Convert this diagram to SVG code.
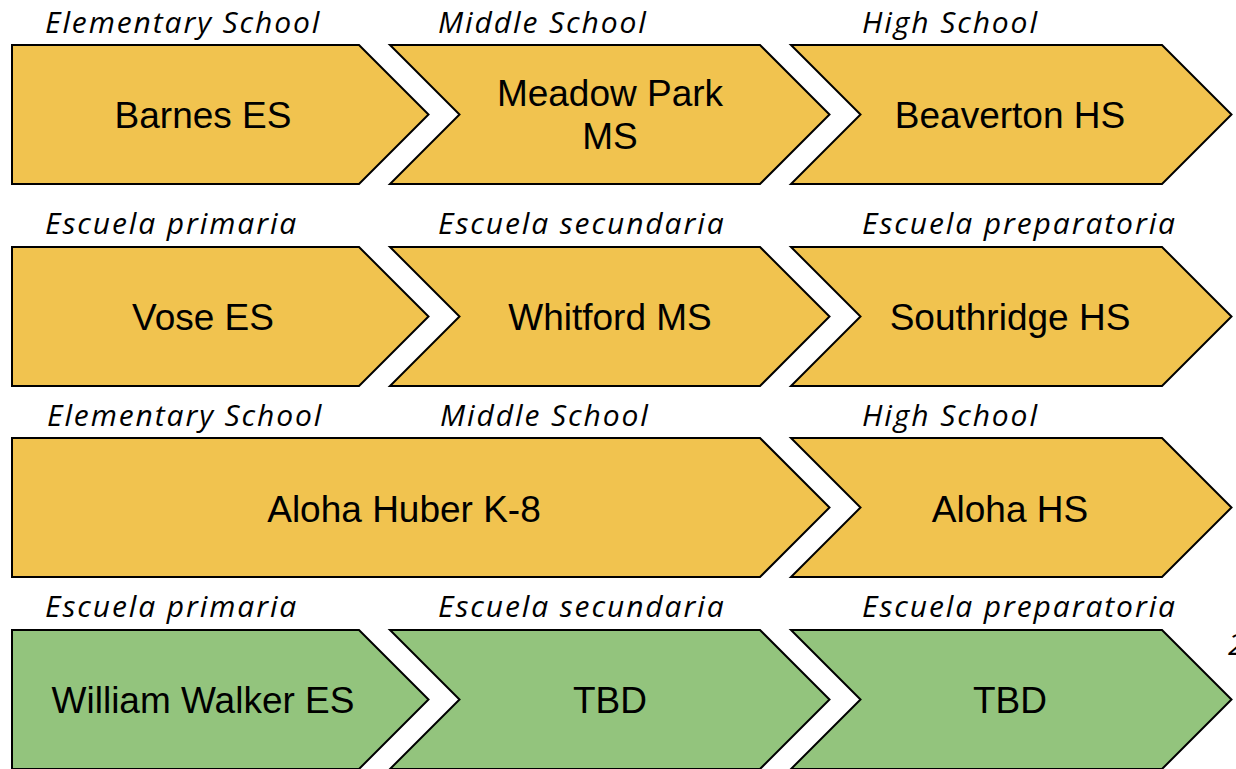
<svg xmlns="http://www.w3.org/2000/svg" width="1236" height="769" viewBox="0 0 1236 769">
<style>
.y{fill:#F1C34F;stroke:#000;stroke-width:2;stroke-linejoin:miter}
.g{fill:#93C47D;stroke:#000;stroke-width:2;stroke-linejoin:miter}
.lbl{font-family:"Open Sans",Lato,sans-serif;font-style:italic;font-size:30px;letter-spacing:1.9px;fill:#000}
.t{font-family:"Liberation Sans",Arial,sans-serif;font-size:37px;fill:#000;text-anchor:middle}
</style>
<rect width="1236" height="769" fill="#fff"/>
<g id="labels">
<text class="lbl" x="45" y="32.5">Elementary School</text>
<text class="lbl" x="438" y="32.5">Middle School</text>
<text class="lbl" x="862" y="32.5">High School</text>
<text class="lbl" x="45" y="233.5">Escuela primaria</text>
<text class="lbl" x="438" y="233.5">Escuela secundaria</text>
<text class="lbl" x="862" y="233.5">Escuela preparatoria</text>
<text class="lbl" x="47" y="425.5">Elementary School</text>
<text class="lbl" x="440" y="425.5">Middle School</text>
<text class="lbl" x="862" y="425.5">High School</text>
<text class="lbl" x="45" y="616.5">Escuela primaria</text>
<text class="lbl" x="438" y="616.5">Escuela secundaria</text>
<text class="lbl" x="862" y="616.5">Escuela preparatoria</text>
<text class="lbl" x="1228" y="655">2</text>
</g>
<g id="barnes"><path class="y" d="M12,45 H359 L428.5,114.5 L359,184 H12 Z"/><text class="t" x="203" y="128">Barnes ES</text></g>
<g id="meadowpark"><path class="y" d="M390,45 H760 L829.5,114.5 L760,184 H390 L459.5,114.5 Z"/><text class="t" x="610" y="106">Meadow Park</text><text class="t" x="610" y="149">MS</text></g>
<g id="beaverton"><path class="y" d="M791,45 H1162 L1231.5,114.5 L1162,184 H791 L860.5,114.5 Z"/><text class="t" x="1010" y="128">Beaverton HS</text></g>
<g id="vose"><path class="y" d="M12,247 H359 L428.5,316.5 L359,386 H12 Z"/><text class="t" x="203" y="330">Vose ES</text></g>
<g id="whitford"><path class="y" d="M390,247 H760 L829.5,316.5 L760,386 H390 L459.5,316.5 Z"/><text class="t" x="610" y="330">Whitford MS</text></g>
<g id="southridge"><path class="y" d="M791,247 H1162 L1231.5,316.5 L1162,386 H791 L860.5,316.5 Z"/><text class="t" x="1010" y="330">Southridge HS</text></g>
<g id="alohahuber"><path class="y" d="M12,438 H760 L829.5,507.5 L760,577 H12 Z"/><text class="t" x="404" y="522">Aloha Huber K-8</text></g>
<g id="alohahs"><path class="y" d="M791,438 H1162 L1231.5,507.5 L1162,577 H791 L860.5,507.5 Z"/><text class="t" x="1010" y="522">Aloha HS</text></g>
<g id="williamwalker"><path class="g" d="M12,630 H359 L428.5,699.5 L359,769 H12 Z"/><text class="t" x="203" y="713">William Walker ES</text></g>
<g id="tbd-ms"><path class="g" d="M390,630 H760 L829.5,699.5 L760,769 H390 L459.5,699.5 Z"/><text class="t" x="610" y="713">TBD</text></g>
<g id="tbd-hs"><path class="g" d="M791,630 H1162 L1231.5,699.5 L1162,769 H791 L860.5,699.5 Z"/><text class="t" x="1010" y="713">TBD</text></g>
<g id="connectors"/>
</svg>
